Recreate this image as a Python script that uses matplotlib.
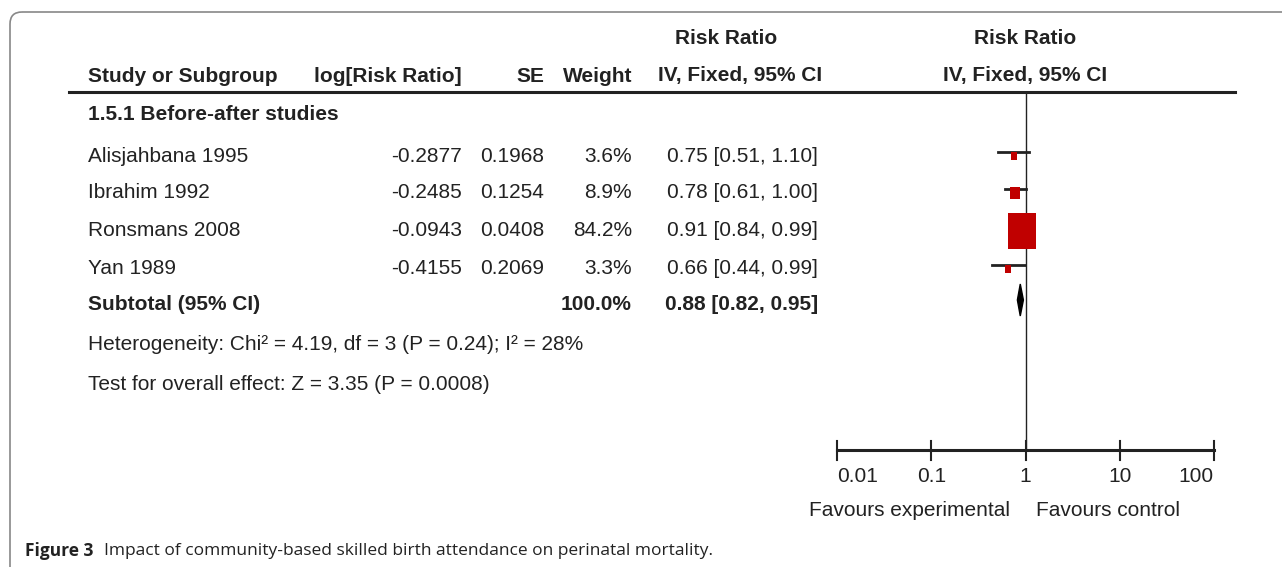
import matplotlib.pyplot as plt
from matplotlib.patches import FancyBboxPatch, Polygon
import numpy as np

studies = ["Alisjahbana 1995", "Ibrahim 1992", "Ronsmans 2008", "Yan 1989"]
log_rr = ["-0.2877", "-0.2485", "-0.0943", "-0.4155"]
se = ["0.1968", "0.1254", "0.0408", "0.2069"]
weights = [3.6, 8.9, 84.2, 3.3]
rr = [0.75, 0.78, 0.91, 0.66]
lo = [0.51, 0.61, 0.84, 0.44]
hi = [1.10, 1.00, 0.99, 0.99]
sub_rr, sub_lo, sub_hi = 0.88, 0.82, 0.95
ticks = [0.01, 0.1, 1, 10, 100]
tick_labels = ["0.01", "0.1", "1", "10", "100"]

W, H = 1282, 567
fig = plt.figure(figsize=(W / 100, H / 100), dpi=100)
ax = fig.add_axes([0, 0, 1, 1])
ax.set_xlim(0, W)
ax.set_ylim(H, 0)
ax.axis("off")

font = ["Liberation Sans", "DejaVu Sans"]
fs = 15
col = "#222222"

def t(x, y, s, ha="left", bold=False, size=fs):
    ax.text(x, y, s, ha=ha, va="center", fontsize=size, family=font,
            fontweight="bold" if bold else "normal", color=col)

# frame
ax.add_patch(FancyBboxPatch((10, 12), W + 40, H + 40,
                            boxstyle="round,pad=0,rounding_size=12",
                            fc="none", ec="#888888", lw=1.2))

# headers
t(726, 38, "Risk Ratio", "center", True)
t(1025, 38, "Risk Ratio", "center", True)
t(88, 76, "Study or Subgroup", bold=True)
t(462, 76, "log[Risk Ratio]", "right", True)
t(544, 76, "SE", "right", True)
t(632, 76, "Weight", "right", True)
t(740, 76, "IV, Fixed, 95% CI", "center", True)
t(1025, 76, "IV, Fixed, 95% CI", "center", True)
ax.plot([69, 1235], [92, 92], color=col, lw=2.2)

t(88, 114, "1.5.1 Before-after studies", bold=True)
rows = [156, 193, 231, 269]
for i, y in enumerate(rows):
    t(88, y, studies[i])
    t(462, y, log_rr[i], "right")
    t(544, y, se[i], "right")
    t(632, y, f"{weights[i]}%", "right")
    t(818, y, f"{rr[i]:.2f} [{lo[i]:.2f}, {hi[i]:.2f}]", "right")
t(88, 304, "Subtotal (95% CI)", bold=True)
t(632, 304, "100.0%", "right", True)
t(818, 304, f"{sub_rr:.2f} [{sub_lo:.2f}, {sub_hi:.2f}]", "right", True)
t(88, 345, "Heterogeneity: Chi² = 4.19, df = 3 (P = 0.24); I² = 28%")
t(88, 384, "Test for overall effect: Z = 3.35 (P = 0.0008)")

# forest panel
fx0, fx1, fy0, fy1 = 837, 1214, 92, 451
fa = fig.add_axes([fx0 / W, 1 - fy1 / H, (fx1 - fx0) / W, (fy1 - fy0) / H])
fa.set_xscale("log")
fa.set_xlim(0.01, 100)
fa.set_ylim(fy1, fy0)
fa.axis("off")
fa.patch.set_alpha(0)
fa.axvline(1, color=col, lw=1)
verts = [(-0.76, -1), (0.76, -1), (0.76, 1), (-0.76, 1), (-0.76, -1)]
for i, y in enumerate(rows):
    fa.plot([lo[i], hi[i]], [y - 4, y - 4], color=col, lw=2)
    fa.scatter([rr[i]], [y], s=weights[i] * 8.4, marker=verts,
               color="#c00000", lw=0, zorder=3)
dy = 16
fa.add_patch(Polygon([(sub_lo, 300), (sub_rr, 300 - dy), (sub_hi, 300), (sub_rr, 300 + dy)],
                     closed=True, color="black"))

fa.plot([0.01, 100], [fy1 - 1, fy1 - 1], color=col, lw=2.2, clip_on=False)
for tk, lab in zip(ticks, tick_labels):
    fa.plot([tk, tk], [fy1 - 10, fy1 + 9], color=col, lw=1.5, clip_on=False)
    ha = "left" if tk == 0.01 else ("right" if tk == 100 else "center")
    fa.text(tk, 477, lab, ha=ha, va="center", fontsize=fs, family=font,
            color=col, clip_on=False)
t(1010, 510, "Favours experimental", "right")
t(1036, 510, "Favours control")

# caption
ax.text(25, 551, "Figure 3", fontsize=12.5, family=["Open Sans", "DejaVu Sans"],
        fontweight="bold", va="center", color=col)
ax.text(104, 551, "Impact of community-based skilled birth attendance on perinatal mortality.",
        fontsize=12.5, family=["Open Sans", "DejaVu Sans"], va="center", color=col)

fig.savefig("out.png", dpi=100)
